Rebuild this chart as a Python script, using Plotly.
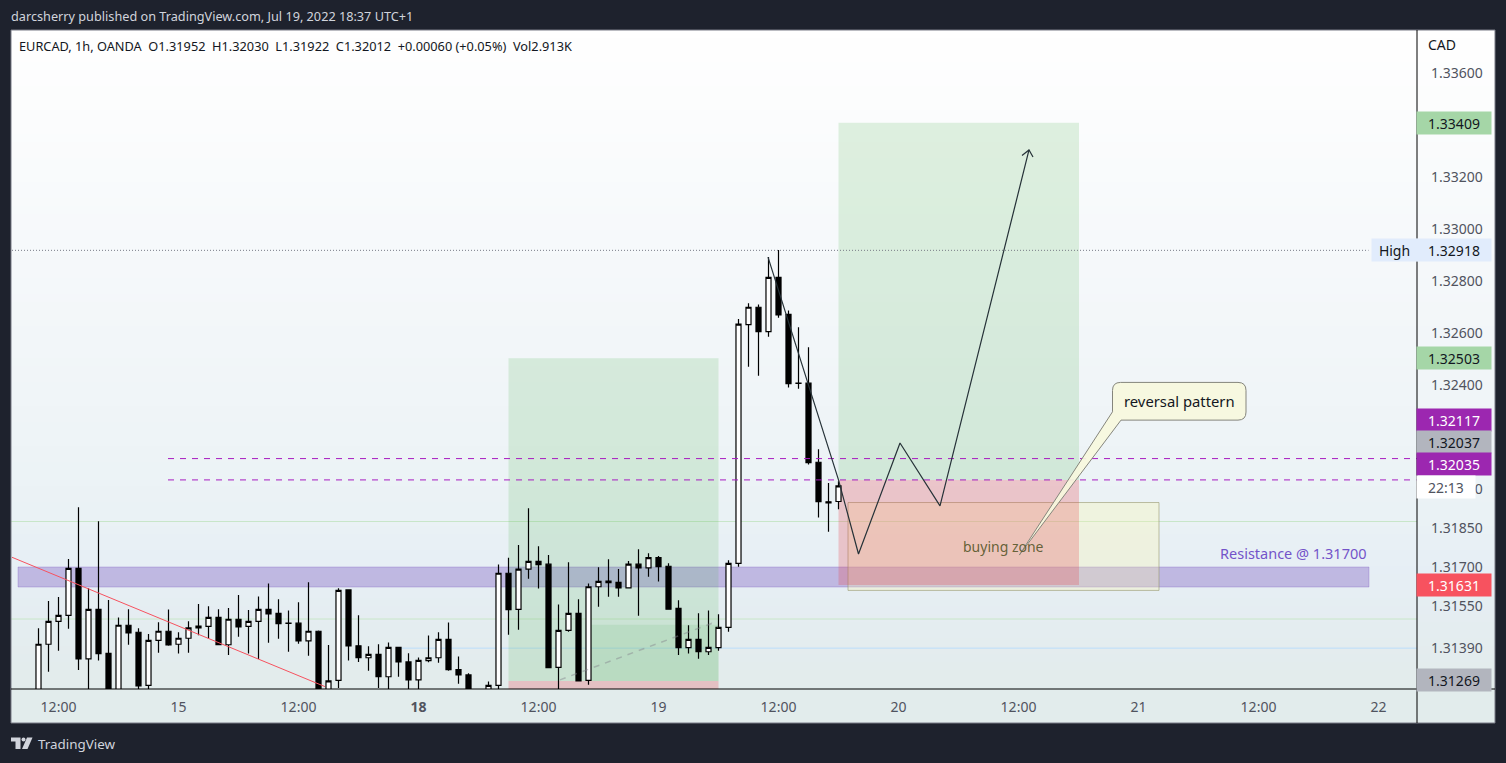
import numpy as np
import plotly.graph_objects as go

# 1h bars, EURCAD OANDA. bar index 0 = Jul 14 10:00
open_ = [1.31190, 1.31403, 1.31491, 1.31514, 1.31695, 1.31347, 1.31537, 1.31368, 1.31207, 1.31476,
         1.31449, 1.31245, 1.31418, 1.31453, 1.31403, 1.31426, 1.31473, 1.31472, 1.31506, 1.31401,
         1.31499, 1.31472, 1.31491, 1.31537, 1.31522, 1.31484, 1.31484, 1.31416, 1.31453, 1.31207,
         1.31264, 1.31612, 1.31397, 1.31351, 1.31364, 1.31278, 1.31391, 1.31335, 1.31266, 1.31340,
         1.31351, 1.31422, 1.31305, 1.31285, 1.31207, 1.31207, 1.31245, 1.31676, 1.31537, 1.31692,
         1.31722, 1.31711, 1.31314, 1.31456, 1.31522, 1.31264, 1.31624, 1.31646, 1.31641, 1.31620,
         1.31711, 1.31697, 1.31736, 1.31703, 1.31541, 1.31390, 1.31422, 1.31374, 1.31390, 1.31468,
         1.31714, 1.32632, 1.32699, 1.32605, 1.32814, 1.32672, 1.32406, 1.32407, 1.32103, 1.31951,
         1.31952]
high = [1.31464, 1.31569, 1.31585, 1.31731, 1.31930, 1.31618, 1.31876, 1.31573, 1.31506, 1.31538,
        1.31464, 1.31442, 1.31488, 1.31537, 1.31449, 1.31491, 1.31558, 1.31549, 1.31538, 1.31542,
        1.31592, 1.31535, 1.31587, 1.31637, 1.31576, 1.31533, 1.31564, 1.31641, 1.31456, 1.31400,
        1.31618, 1.31612, 1.31514, 1.31395, 1.31403, 1.31410, 1.31391, 1.31368, 1.31352, 1.31437,
        1.31449, 1.31487, 1.31356, 1.31291, 1.31225, 1.31260, 1.31710, 1.31736, 1.31785, 1.31926,
        1.31780, 1.31746, 1.31556, 1.31718, 1.31576, 1.31637, 1.31699, 1.31730, 1.31692, 1.31723,
        1.31768, 1.31753, 1.31742, 1.31714, 1.31572, 1.31476, 1.31522, 1.31533, 1.31518, 1.31726,
        1.32654, 1.32714, 1.32710, 1.32892, 1.32919, 1.32687, 1.32622, 1.32545, 1.32153, 1.32023,
        1.32030]
low = [1.31170, 1.31297, 1.31378, 1.31463, 1.31304, 1.31219, 1.31340, 1.31169, 1.31189, 1.31401,
       1.31219, 1.31219, 1.31370, 1.31397, 1.31367, 1.31370, 1.31438, 1.31424, 1.31401, 1.31362,
       1.31432, 1.31367, 1.31346, 1.31409, 1.31424, 1.31374, 1.31405, 1.31359, 1.31169, 1.31189,
       1.31235, 1.31340, 1.31335, 1.31301, 1.31235, 1.31219, 1.31278, 1.31219, 1.31219, 1.31334,
       1.31332, 1.31301, 1.31251, 1.31189, 1.31160, 1.31189, 1.31219, 1.31439, 1.31459, 1.31655,
       1.31617, 1.31313, 1.31219, 1.31451, 1.31262, 1.31247, 1.31547, 1.31586, 1.31586, 1.31620,
       1.31513, 1.31663, 1.31644, 1.31536, 1.31362, 1.31367, 1.31347, 1.31362, 1.31378, 1.31451,
       1.31701, 1.32470, 1.32436, 1.32586, 1.32659, 1.32390, 1.32386, 1.32094, 1.31890, 1.31836,
       1.31922]
close = [1.31403, 1.31491, 1.31514, 1.31695, 1.31347, 1.31537, 1.31367, 1.31189, 1.31476, 1.31447,
         1.31243, 1.31418, 1.31453, 1.31400, 1.31426, 1.31466, 1.31466, 1.31506, 1.31401, 1.31499,
         1.31470, 1.31491, 1.31537, 1.31520, 1.31482, 1.31483, 1.31416, 1.31453, 1.31189, 1.31262,
         1.31610, 1.31397, 1.31351, 1.31364, 1.31278, 1.31391, 1.31335, 1.31266, 1.31341, 1.31351,
         1.31422, 1.31305, 1.31285, 1.31207, 1.31180, 1.31245, 1.31676, 1.31536, 1.31692, 1.31722,
         1.31709, 1.31313, 1.31456, 1.31522, 1.31262, 1.31624, 1.31645, 1.31640, 1.31620, 1.31711,
         1.31697, 1.31736, 1.31701, 1.31538, 1.31390, 1.31422, 1.31374, 1.31391, 1.31468, 1.31714,
         1.32634, 1.32699, 1.32605, 1.32814, 1.32670, 1.32405, 1.32407, 1.32101, 1.31951, 1.31947,
         1.32012]
bars = list(range(len(close)))

x_tick_bars = [2, 14, 26, 38, 50, 62, 74, 86, 98, 110, 122, 134]
x_tick_text = ["12:00", "15", "12:00", "<b>18</b>", "12:00", "19", "12:00", "20", "12:00", "21", "12:00", "22"]
y_ticks = [1.33600, 1.33400, 1.33200, 1.33000, 1.32800, 1.32600, 1.32400, 1.32000, 1.31850, 1.31700, 1.31550, 1.31390]

# drawings, in bar index / price
trend_x = [-2.75, 28.65]
trend_y = [1.31739, 1.31240]
path_x = [72.95, 80.0, 82.0, 86.15, 90.15, 99.05]
path_y = [1.32892, 1.32035, 1.31750, 1.32177, 1.31935, 1.33304]
head_x = [98.35, 99.05, 99.45]
head_y = [1.33283, 1.33304, 1.33277]
fill_x = [52.15, 67.32, 67.95]
fill_y = [1.31266, 1.31483, 1.31468]
long1_x = [47.0, 68.0]
long1_y = [1.32503, 1.31262, 1.31180]
long1_hit_x = [55.3, 68.0]
long1_hit_y = [1.31478, 1.31262]
long2_x = [80.0, 104.05]
long2_y = [1.33409, 1.32035, 1.31631]
zone_x = [80.95, 112.05]
zone_y = [1.31948, 1.31610]
res_x = [-2.05, 133.05]
res_y = [1.31700, 1.31623]
magenta_levels = [1.32117, 1.32035]
magenta_x = [12.95, 137.85]
high_level = 1.32918
green_levels = [1.31875, 1.31500]
blue_level = 1.31388
blue_x = [35.8, 137.85]
bubble_x = [107.4, 120.75]
bubble_y = [1.32410, 1.32265]
tail_x = [107.4, 98.08, 108.25]
tail_y = [1.32297, 1.31746, 1.32265]

# price scale tags: text, background, text colour, centre pixel row
tag_text = ["1.33409", "1.32918", "1.32503", "1.32117", "1.32037", "1.32035", "1.31631", "1.31269"]
tag_bg = ["#a5d6a7", "#e1ecfc", "#a5d6a7", "#9c27b0", "#b2b5be", "#9c27b0", "#f7525f", "#b2b5be"]
tag_fg = ["#131722", "#131722", "#131722", "#ffffff", "#131722", "#ffffff", "#ffffff", "#131722"]
tag_row = [122.7, 250, 358, 419.5, 441.5, 463.5, 585, 680]

# background gradient stops
grad_rows = [30, 250, 400, 520, 560, 680, 723]
grad_r = [255, 246, 240, 234, 231, 227, 226]
grad_g = [255, 249, 245, 242, 239, 236, 237]
grad_b = [255, 251, 248, 245, 246, 236, 237]

W, H = 1506, 763
L, R, T, B = 12, 1417, 30, 689
FONT = "Noto Sans"
DARK = "#1e222d"


def px(x):
    return (x - L) / (R - L)


def py(y):
    return (B - y) / (B - T)


def page_rect(x0, y0, x1, y1, **kw):
    return dict(type="rect", xref="paper", yref="paper", x0=px(x0), x1=px(x1), y0=py(y0), y1=py(y1), **kw)


def data_rect(xs, y0, y1, fill, line=None, layer="below"):
    return dict(type="rect", xref="x", yref="y", x0=xs[0], x1=xs[1], y0=y0, y1=y1, fillcolor=fill,
                line=dict(width=1 if line else 0, color=line or "rgba(0,0,0,0)"), layer=layer)


def text_note(x, y, text, size=14, color="#50535e", anchor="left"):
    return dict(xref="paper", yref="paper", x=px(x), y=py(y), text=text, showarrow=False, xanchor=anchor,
                yanchor="middle", font=dict(family=FONT, size=size, color=color), borderpad=0)


shapes = []
# backgound of the chart panel
for row in range(30, 723, 8):
    r, g, b = [int(np.interp(row, grad_rows, c)) for c in (grad_r, grad_g, grad_b)]
    shapes.append(page_rect(11, row, 1495, min(row + 8, 723), fillcolor=f"rgb({r},{g},{b})",
                            line=dict(width=0), layer="below"))

for level in green_levels:
    shapes.append(dict(type="line", xref="paper", yref="y", x0=px(11), x1=1, y0=level, y1=level,
                       line=dict(color="#c8e6c9", width=1), layer="below"))
shapes.append(dict(type="line", xref="x", yref="y", x0=blue_x[0], x1=blue_x[1], y0=blue_level, y1=blue_level,
                   line=dict(color="#bbdefb", width=1), layer="below"))

# resistance and buying zone go under the position boxes
shapes.append(data_rect(res_x, res_y[0], res_y[1], "rgba(103,58,183,0.3)", "rgba(103,58,183,0.25)"))
shapes.append(data_rect(zone_x, zone_y[0], zone_y[1], "rgba(252,245,173,0.3)", "rgba(150,150,110,0.6)"))

# long positions
green = "rgba(76,175,80,0.17)"
red = "rgba(230,60,70,0.25)"
shapes.append(data_rect(long1_x, long1_y[0], long1_y[1], green))
shapes.append(data_rect(long1_x, long1_y[1], long1_y[2], red))
shapes.append(data_rect(long1_hit_x, long1_hit_y[0], long1_hit_y[1], "rgba(76,175,80,0.12)"))
shapes.append(data_rect(long2_x, long2_y[0], long2_y[1], green))
shapes.append(data_rect(long2_x, long2_y[1], long2_y[2], red))

# callout bubble with its tail
rx, ry = 0.8, 0.00031
x0, x1 = bubble_x
y0, y1 = bubble_y
bubble_path = (
    f"M {x0} {y0 - ry} Q {x0} {y0} {x0 + rx} {y0} L {x1 - rx} {y0} Q {x1} {y0} {x1} {y0 - ry} "
    f"L {x1} {y1 + ry} Q {x1} {y1} {x1 - rx} {y1} L {tail_x[2]} {tail_y[2]} L {tail_x[1]} {tail_y[1]} "
    f"L {tail_x[0]} {tail_y[0]} Z"
)
shapes.append(dict(type="path", xref="x", yref="y", path=bubble_path, fillcolor="rgba(247,247,222,0.93)",
                   line=dict(color="#85857c", width=1), layer="above"))

# frame and price/time scale lines
shapes.append(page_rect(11, 30, 1495, 723, line=dict(color="#787b86", width=1), layer="above"))
shapes.append(dict(type="line", xref="paper", yref="paper", x0=px(R), x1=px(R), y0=py(30), y1=py(723),
                   line=dict(color="#000000", width=1), layer="above"))
shapes.append(dict(type="line", xref="paper", yref="paper", x0=px(11), x1=px(1495), y0=0, y1=0,
                   line=dict(color="#000000", width=1), layer="above"))

# TradingView mark
logo = "#d1d4dc"
for p in ["M 11 737.5 L 20.5 737.5 L 20.5 749 L 15.5 749 L 15.5 741.5 L 11 741.5 Z",
          "M 27 737.5 L 32.5 737.5 L 27.5 749 L 22 749 Z"]:
    pts = p.split()
    out = []
    i = 0
    while i < len(pts):
        if pts[i] in "ML":
            out += [pts[i], str(px(float(pts[i + 1]))), str(py(float(pts[i + 2])))]
            i += 3
        else:
            out.append(pts[i])
            i += 1
    shapes.append(dict(type="path", xref="paper", yref="paper", path=" ".join(out), fillcolor=logo, line=dict(width=0)))
shapes.append(dict(type="circle", xref="paper", yref="paper", x0=px(21.5), x1=px(25.5), y0=py(737.5), y1=py(741.5),
                   fillcolor=logo, line=dict(width=0)))

notes = [
    text_note(10, 16, "darcsherry published on TradingView.com, Jul 19, 2022 18:37 UTC+1", 12.7, "#d1d4dc"),
    text_note(18, 46, "EURCAD, 1h, OANDA\u00a0\u00a0O1.31952\u00a0\u00a0H1.32030\u00a0\u00a0L1.31922\u00a0\u00a0C1.32012"
                      "\u00a0\u00a0+0.00060 (+0.05%)\u00a0\u00a0Vol2.913K", 12.75, "#131722"),
    text_note(1427, 45, "CAD", 14, "#131722"),
    text_note(37, 744, "TradingView", 13.4, "#d1d4dc"),
    text_note(1368, 553, "Resistance @ 1.31700", 14.5, "#7353c9", "right"),
    text_note(1003, 546, "buying zone", 14, "rgba(85,85,40,0.9)", "center"),
    text_note(1179, 401, "reversal pattern", 14.8, "#131722", "center"),
]
for text, bg, fg, row in zip(tag_text, tag_bg, tag_fg, tag_row):
    note = text_note(1416, row, text, 14, fg)
    note.update(bgcolor=bg, width=74, height=22, align="center")
    notes.append(note)
high_note = text_note(1371, 250, "High", 14, "#131722")
high_note.update(bgcolor="#e1ecfc", width=45, height=22, align="center")
notes.append(high_note)
clock_note = text_note(1416, 486.5, "22:13", 14, "#50535e")
clock_note.update(bgcolor="#ffffff", width=58, height=22, align="center")
notes.append(clock_note)

fig = go.Figure()
fig.add_trace(go.Scatter(x=fill_x, y=fill_y, mode="lines", line=dict(color="rgba(130,130,140,0.45)", width=1.5, dash="6px,6px")))
fig.add_trace(go.Candlestick(
    x=bars, open=open_, high=high, low=low, close=close, whiskerwidth=0,
    increasing=dict(fillcolor="#ffffff", line=dict(color="#000000", width=1.2)),
    decreasing=dict(fillcolor="#000000", line=dict(color="#000000", width=1.2)),
))
fig.add_trace(go.Scatter(x=trend_x, y=trend_y, mode="lines", line=dict(color="#f7525f", width=1)))
for level in magenta_levels:
    fig.add_trace(go.Scatter(x=magenta_x, y=[level, level], mode="lines",
                             line=dict(color="#a81cc0", width=1, dash="6px,6px")))
fig.add_trace(go.Scatter(x=[-2.65, 133.0], y=[high_level, high_level], mode="lines",
                         line=dict(color="#787b86", width=1, dash="1px,2px")))
fig.add_trace(go.Scatter(x=path_x, y=path_y, mode="lines", line=dict(color="#263238", width=1.2)))
fig.add_trace(go.Scatter(x=head_x, y=head_y, mode="lines", line=dict(color="#263238", width=1.2)))

fig.update_layout(
    width=W, height=H,
    margin=dict(l=L, r=W - R, t=T, b=H - B, pad=0),
    paper_bgcolor=DARK, plot_bgcolor="rgba(0,0,0,0)",
    showlegend=False, boxgap=0.28, hovermode=False,
    shapes=shapes, annotations=notes,
    font=dict(family=FONT, size=14, color="#50535e"),
    xaxis=dict(range=[-2.65, 137.85], rangeslider=dict(visible=False), showgrid=False, zeroline=False,
               tickmode="array", tickvals=x_tick_bars, ticktext=x_tick_text, ticks="", ticklabelstandoff=8),
    yaxis=dict(range=[1.312308, 1.337654], side="right", showgrid=False, zeroline=False,
               tickmode="array", tickvals=y_ticks, ticktext=[f"{v:.5f}" for v in y_ticks],
               ticks="", ticklabelstandoff=13),
)

fig.write_html("out.html", config={"displayModeBar": False},
               post_script="document.body.style.margin='0';document.body.style.overflow='hidden';"
                           "document.body.style.background='#1e222d';")
